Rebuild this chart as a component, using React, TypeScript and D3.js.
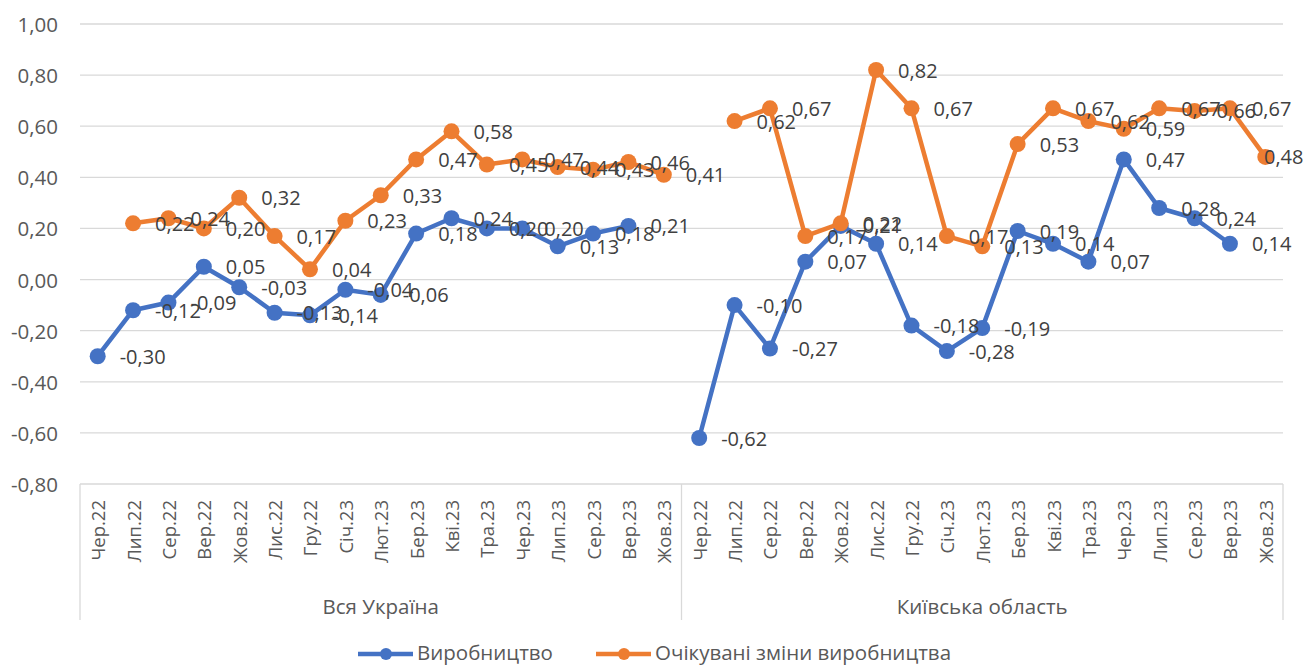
import React from 'react';
import * as d3 from 'd3';

// month labels, repeated for each region
const months = ['Чер.22', 'Лип.22', 'Сер.22', 'Вер.22', 'Жов.22', 'Лис.22', 'Гру.22', 'Січ.23', 'Лют.23',
    'Бер.23', 'Кві.23', 'Тра.23', 'Чер.23', 'Лип.23', 'Сер.23', 'Вер.23', 'Жов.23'];
const regions = ['Вся Україна', 'Київська область'];

const ukraineProd = [-0.30, -0.12, -0.09, 0.05, -0.03, -0.13, -0.14, -0.04, -0.06, 0.18, 0.24, 0.20, 0.20, 0.13, 0.18, 0.21, null];
const ukraineExp = [null, 0.22, 0.24, 0.20, 0.32, 0.17, 0.04, 0.23, 0.33, 0.47, 0.58, 0.45, 0.47, 0.44, 0.43, 0.46, 0.41];
const kyivProd = [-0.62, -0.10, -0.27, 0.07, 0.21, 0.14, -0.18, -0.28, -0.19, 0.19, 0.14, 0.07, 0.47, 0.28, 0.24, 0.14, null];
const kyivExp = [null, 0.62, 0.67, 0.17, 0.22, 0.82, 0.67, 0.17, 0.13, 0.53, 0.67, 0.62, 0.59, 0.67, 0.66, 0.67, 0.48];

const yTicks = [-0.8, -0.6, -0.4, -0.2, 0, 0.2, 0.4, 0.6, 0.8, 1.0];

const seriesNames = ['Виробництво', 'Очікувані зміни виробництва'];
const colors = ['#4472C4', '#ED7D31'];

const W = 1306;
const H = 667;
const FONT = '"Open Sans", "Noto Sans", sans-serif';
const TEXT = '#595959';

const locale = d3.formatLocale({ decimal: ',', thousands: ' ', grouping: [3], currency: ['', ''], minus: '-' });
const fmt = locale.format('.2f');

const App = () => {
    const plotLeft = 80;
    const plotRight = 1283;
    const plotTop = 24;
    const plotBottom = 484;
    const axisBottom = 620;
    const legendY = 652;

    const n = months.length * regions.length;
    const x = d3.scaleBand<number>().domain(d3.range(n)).range([plotLeft, plotRight]);
    const cx = (i: number) => (x(i) as number) + x.bandwidth() / 2;

    const y = d3.scaleLinear().domain([-0.8, 1.0]).range([plotBottom, plotTop]);

    const series = [
        [...ukraineProd, ...kyivProd],
        [...ukraineExp, ...kyivExp],
    ];

    const line = d3.line<number | null>()
        .defined(d => d !== null)
        .x((_, i) => cx(i))
        .y(d => y(d as number));

    const dividers = [0, months.length, n].map(i => i === n ? plotRight : (x(i) as number));

    const labelFont = 20;
    const estWidth = (s: string) => s.length * labelFont * 0.5;

    return (
        <svg width={W} height={H} style={{ position: 'absolute', left: 0, top: 0, background: '#fff' }}
            fontFamily={FONT}>
            {/* gridlines */}
            {yTicks.map(t => (
                <line key={t} x1={plotLeft} x2={plotRight} y1={y(t)} y2={y(t)} stroke="#d9d9d9" strokeWidth={1.3} />
            ))}
            {yTicks.map(t => (
                <text key={'l' + t} x={58} y={y(t)} textAnchor="end" dominantBaseline="central"
                    fontSize={20.5} fill={TEXT}>{fmt(t)}</text>
            ))}

            {/* category axis */}
            {dividers.map((d, i) => (
                <line key={'d' + i} x1={d} x2={d} y1={plotBottom} y2={axisBottom} stroke="#d9d9d9" strokeWidth={1.3} />
            ))}
            {d3.range(n).map(i => (
                <text key={'c' + i} transform={`translate(${cx(i)},${plotBottom + 16}) rotate(-90)`}
                    textAnchor="end" dominantBaseline="central" fontSize={18.5} fill={TEXT}>
                    {months[i % months.length]}
                </text>
            ))}
            {regions.map((r, k) => (
                <text key={r} x={(dividers[k] + dividers[k + 1]) / 2} y={606} textAnchor="middle"
                    dominantBaseline="central" fontSize={20.5} fill={TEXT}>{r}</text>
            ))}

            {/* lines and markers */}
            {series.map((s, k) => (
                <g key={'s' + k}>
                    <path d={line(s) as string} fill="none" stroke={colors[k]} strokeWidth={4.5} strokeLinejoin="round" />
                    {s.map((v, i) => v === null ? null : (
                        <circle key={i} cx={cx(i)} cy={y(v)} r={8} fill={colors[k]} />
                    ))}
                </g>
            ))}

            {/* data labels */}
            {series.map((s, k) => (
                <g key={'dl' + k}>
                    {s.map((v, i) => {
                        if (v === null) return null;
                        const s2 = fmt(v);
                        const lx = Math.min(cx(i) + 22, W - 2 - estWidth(s2));
                        return (
                            <text key={i} x={lx} y={y(v)} dominantBaseline="central" fontSize={labelFont} fill="#404040">{s2}</text>
                        );
                    })}
                </g>
            ))}

            {/* legend */}
            {[358, 596].map((lx, k) => (
                <g key={'lg' + k}>
                    <line x1={lx} x2={lx + 55} y1={legendY + 2} y2={legendY + 2} stroke={colors[k]} strokeWidth={4.5} />
                    <circle cx={lx + 28} cy={legendY + 2} r={6} fill={colors[k]} />
                    <text x={lx + 59} y={legendY} dominantBaseline="central" fontSize={20.5} fill={TEXT}>{seriesNames[k]}</text>
                </g>
            ))}
        </svg>
    );
};

export default App;
